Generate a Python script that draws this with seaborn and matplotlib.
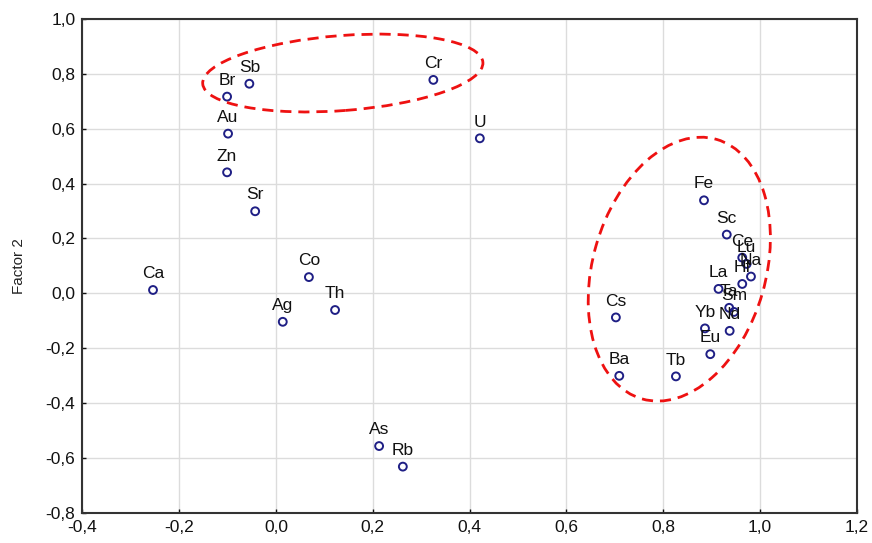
import matplotlib
matplotlib.use("Agg")
import matplotlib.pyplot as plt
import matplotlib.transforms as mtransforms
from matplotlib.patches import Ellipse
from matplotlib.ticker import FuncFormatter, MultipleLocator
import seaborn as sns
import pandas as pd

elements = ["Ca", "Br", "Sb", "Au", "Zn", "Sr", "Co", "Th", "Ag", "As", "Rb",
            "Cr", "U", "Cs", "Ba", "Tb", "Fe", "Sc", "Ce", "Lu", "Na", "Hf",
            "La", "Ta", "Sm", "Nd", "Yb", "Eu"]
factor1 = [-0.254, -0.101, -0.055, -0.099, -0.101, -0.043, 0.068, 0.122, 0.014,
           0.213, 0.262, 0.325, 0.421, 0.702, 0.709, 0.826, 0.884, 0.931,
           0.963, 0.972, 0.981, 0.963, 0.914, 0.936, 0.946, 0.937, 0.886, 0.897]
factor2 = [0.012, 0.717, 0.764, 0.582, 0.441, 0.299, 0.059, -0.061, -0.104,
           -0.557, -0.632, 0.778, 0.565, -0.088, -0.301, -0.303, 0.339, 0.214,
           0.130, 0.107, 0.061, 0.034, 0.016, -0.053, -0.068, -0.137, -0.128,
           -0.222]

df = pd.DataFrame({"element": elements, "f1": factor1, "f2": factor2})

sns.set_style("whitegrid")
plt.rcParams["font.family"] = ["Liberation Sans", "DejaVu Sans"]

fig = plt.figure(figsize=(8.72, 5.43), dpi=100)
ax = fig.add_axes([0.0944, 0.0558, 0.8884, 0.9092])

sns.scatterplot(data=df, x="f1", y="f2", marker="o", s=32,
                facecolor="none", edgecolor="#1f1f85", linewidth=1.4, ax=ax)

for name, x, y in zip(elements, factor1, factor2):
    ax.annotate(name, (x, y), xytext=(0, 8.5), textcoords="offset points",
                ha="center", va="baseline", fontsize=12.5, color="#111111")

ax.set_xlim(-0.4, 1.2)
ax.set_ylim(-0.8, 1.0)
ax.xaxis.set_major_locator(MultipleLocator(0.2))
ax.yaxis.set_major_locator(MultipleLocator(0.2))
comma = FuncFormatter(lambda v, p: f"{v:.1f}".replace(".", ",").replace("-0,0", "0,0"))
ax.xaxis.set_major_formatter(comma)
ax.yaxis.set_major_formatter(comma)
ax.tick_params(axis="both", labelsize=12.5, colors="#111111", direction="in",
               length=3, width=1, left=True, bottom=True, pad=5)
ax.set_xlabel("")
ax.set_ylabel("Factor 2", fontsize=11, color="#222222", labelpad=14)
ax.grid(True, color="#dcdcdc", linewidth=1)
for sp in ax.spines.values():
    sp.set_color("#333333")
    sp.set_linewidth(1.5)

# dashed ellipses marking the two groups (sizes in inches, centre in data units)
def group_ellipse(cx, cy, w, h, angle):
    tr = fig.dpi_scale_trans + mtransforms.ScaledTranslation(cx, cy, ax.transData)
    e = Ellipse((0, 0), w, h, angle=angle, transform=tr, fill=False,
                edgecolor="#ee1111", linestyle=(0, (4, 2.5)), linewidth=2)
    ax.add_patch(e)

group_ellipse(0.138, 0.803, 2.81, 0.75, 4.4)
group_ellipse(0.833, 0.088, 1.73, 2.70, -16)

fig.savefig("out.png", dpi=100)
